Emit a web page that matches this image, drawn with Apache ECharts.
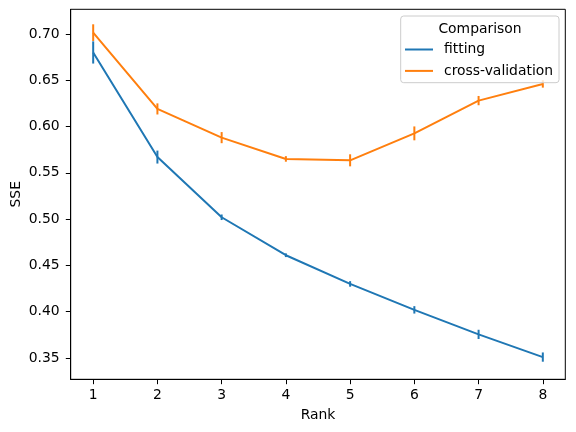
<!DOCTYPE html>
<html>
<head>
<meta charset="utf-8">
<script src="https://cdn.jsdelivr.net/npm/echarts@6/dist/echarts.min.js"></script>
<style>
  html, body { margin: 0; padding: 0; background: #fff; }
  #chart { width: 576px; height: 432px; }
</style>
</head>
<body>
<div id="chart"></div>
<script>
// values
var ranks = [1, 2, 3, 4, 5, 6, 7, 8]
var fitMean = [0.680, 0.567, 0.502, 0.461, 0.430, 0.402, 0.3755, 0.351]
var fitErr = [0.012, 0.007, 0.003, 0.002, 0.003, 0.004, 0.005, 0.005]
var cvMean = [0.7014, 0.619, 0.588, 0.565, 0.5635, 0.5926, 0.628, 0.646]
var cvErr = [0.009, 0.006, 0.006, 0.003, 0.0065, 0.0075, 0.005, 0.004]
var yTicks = [0.35, 0.40, 0.45, 0.50, 0.55, 0.60, 0.65, 0.70]

var blue = '#1f77b4'
var orange = '#ff7f0e'
var font = 'DejaVu Sans'
var fs = 13.9

function pairs (xs, ys) {
  return xs.map(function (x, i) { return [x, ys[i]] })
}
function bars (xs, ys, es) {
  return xs.map(function (x, i) { return [x, ys[i] - es[i], ys[i] + es[i]] })
}
function errorSeries (name, color, data) {
  return {
    name: name,
    type: 'custom',
    data: data,
    encode: { x: 0, y: [1, 2] },
    z: 3,
    silent: true,
    renderItem: function (params, api) {
      var a = api.coord([api.value(0), api.value(1)])
      var b = api.coord([api.value(0), api.value(2)])
      return {
        type: 'line',
        shape: { x1: a[0], y1: a[1], x2: b[0], y2: b[1] },
        style: { stroke: color, lineWidth: 2 }
      }
    }
  }
}

var chart = echarts.init(document.getElementById('chart'))
chart.setOption({
  animation: false,
  textStyle: { fontFamily: font },
  grid: {
    left: 70.7, right: 10.7, top: 9.3, bottom: 52.7,
    outerBoundsMode: 'none',
    containLabel: false,
    show: true, borderColor: '#000', borderWidth: 1
  },
  xAxis: {
    type: 'value',
    min: 0.65,
    max: 8.35,
    name: 'Rank',
    nameLocation: 'middle',
    nameGap: 29,
    nameMoveOverlap: false,
    nameTextStyle: { color: '#000', fontSize: fs, fontFamily: font },
    splitLine: { show: false },
    axisLine: { show: true, lineStyle: { color: '#000', width: 1 } },
    axisTick: { show: true, customValues: ranks, length: 4.9, lineStyle: { color: '#000' } },
    axisLabel: { customValues: ranks, color: '#000', fontSize: fs, margin: 9 }
  },
  yAxis: {
    type: 'value',
    min: 0.327,
    max: 0.7266,
    name: 'SSE',
    nameLocation: 'middle',
    nameGap: 47,
    nameMoveOverlap: false,
    nameTextStyle: { color: '#000', fontSize: fs, fontFamily: font },
    splitLine: { show: false },
    axisLine: { show: true, lineStyle: { color: '#000', width: 1 } },
    axisTick: { show: true, customValues: yTicks, length: 4.9, lineStyle: { color: '#000' } },
    axisLabel: {
      customValues: yTicks, color: '#000', fontSize: fs, margin: 11,
      formatter: function (v) { return v.toFixed(2) }
    }
  },
  legend: {
    data: ['fitting', 'cross-validation'],
    orient: 'vertical',
    left: 405,
    top: 42.5,
    z: 100,
    padding: 0,
    icon: 'path://M0,0L28,0L28,2L0,2Z',
    itemWidth: 28,
    itemHeight: 14,
    itemGap: 7.4,
    textStyle: { color: '#000', fontSize: fs, padding: [0, 0, 0, 6] }
  },
  graphic: [
    {
      type: 'rect',
      z: 50,
      shape: { x: 400.7, y: 16, width: 158.3, height: 66.7, r: 3 },
      style: { fill: 'rgba(255,255,255,0.8)', stroke: '#cccccc', lineWidth: 1 }
    },
    {
      type: 'text',
      z: 51,
      x: 480,
      y: 29,
      style: {
        text: 'Comparison', fill: '#000', fontSize: fs, fontFamily: font,
        align: 'center', verticalAlign: 'middle'
      }
    }
  ],
  series: [
    {
      name: 'fitting',
      type: 'line',
      data: pairs(ranks, fitMean),
      symbol: 'none',
      lineStyle: { color: blue, width: 2 },
      itemStyle: { color: blue },
      z: 2
    },
    {
      name: 'cross-validation',
      type: 'line',
      data: pairs(ranks, cvMean),
      symbol: 'none',
      lineStyle: { color: orange, width: 2 },
      itemStyle: { color: orange },
      z: 2
    },
    errorSeries('fitting err', blue, bars(ranks, fitMean, fitErr)),
    errorSeries('cross-validation err', orange, bars(ranks, cvMean, cvErr))
  ]
})
</script>
</body>
</html>
